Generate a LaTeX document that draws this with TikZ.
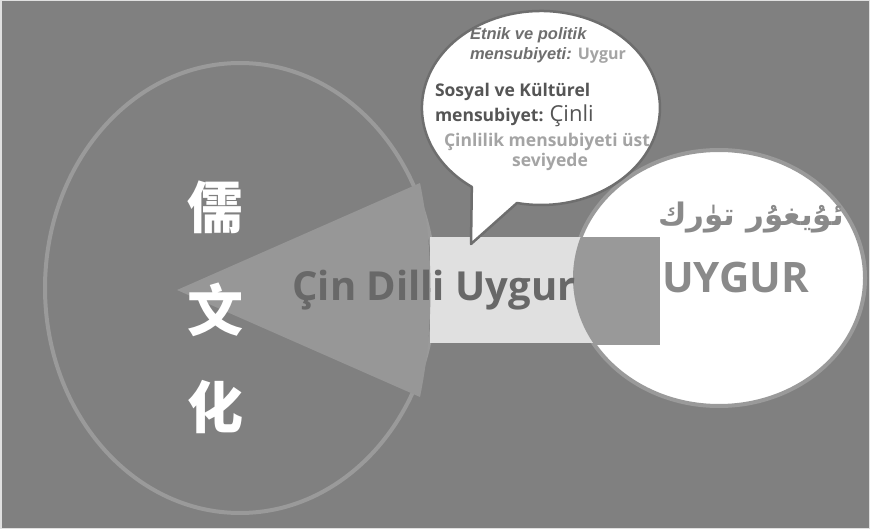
\documentclass[tikz,border=0pt]{standalone}
\usepackage{fontspec}
\setmainfont{Liberation Sans}
\newfontfamily\noto{Open Sans}
\newfontfamily\cjk{Noto Sans CJK SC}
\newfontfamily\arabicfont[Script=Arabic]{DejaVu Sans}
\TeXXeTstate=1
\definecolor{bg}{HTML}{808080}
\definecolor{ringgray}{HTML}{9A9A9A}
\definecolor{trifill}{HTML}{979797}
\definecolor{rectlight}{HTML}{E0E0E0}
\definecolor{rectmid}{HTML}{999999}
\definecolor{bubbleline}{HTML}{6E6E6E}
\definecolor{txtdark}{HTML}{555555}
\definecolor{txtital}{HTML}{6E6E6E}
\definecolor{txtlight}{HTML}{A4A4A4}
\definecolor{cintxt}{HTML}{686868}
\definecolor{uygtxt}{HTML}{8A8A8A}
\begin{document}
\begin{tikzpicture}[x=1pt,y=1pt,
  txt/.style={inner sep=0pt, outer sep=0pt},
  cjkchar/.style={txt, text=white, font=\cjk\bfseries\fontsize{56}{56}\selectfont},
  bubtxt/.style={txt, anchor=base west}]
\useasboundingbox (0,0) rectangle (870,-529);
% background
\fill[bg] (0,0) rectangle (870,-529);
\draw[rectlight, line width=1.5pt] (0.75,-0.75) rectangle (869.25,-528.25);
% big left ellipse
\draw[ringgray, line width=4pt] (240,-288) ellipse [x radius=195, y radius=225];
% right circle
\draw[ringgray, line width=4pt, fill=white] (719,-278) ellipse [x radius=146, y radius=128];
% rectangle
\fill[rectlight] (430,-237) rectangle (660,-343);
\begin{scope}
  \clip (719,-278) ellipse [x radius=146, y radius=128];
  \fill[rectmid] (430,-237) rectangle (660,-345);
\end{scope}
% triangle (arrow head)
\fill[trifill] (177,-290) -- (420,-183) .. controls (434,-250) and (434,-330) .. (420,-397) -- cycle;
% speech bubble
\filldraw[draw=bubbleline, fill=white, line width=2.5pt, line join=round]
  (517,-203) arc[start angle=258.4, end angle=594.5, x radius=119, y radius=97]
  -- (471,-244) -- cycle;
% CJK characters
\node[cjkchar] (ru) at (215,-207) {儒};
\node[cjkchar] (wen) at (215,-310) {文};
\node[cjkchar] (hua) at (215,-407) {化};
% central label
\node[txt, anchor=base, text=cintxt, font=\noto\bfseries\fontsize{40}{40}\selectfont] (cin) at (434,-301) {Çin Dilli Uygur};
% right circle texts
\node[txt, anchor=base, text=uygtxt, font=\arabicfont\bfseries\fontsize{31}{31}\selectfont] (ar) at (751,-226) {\beginR ئۇيغۇر تۈرك\endR};
\node[txt, anchor=base west, text=uygtxt, font=\noto\bfseries\fontsize{42}{42}\selectfont] (uyg) at (662,-293) {UYGUR};
% bubble texts
\node[bubtxt, text=txtital, font=\bfseries\itshape\fontsize{16.5}{16.5}\selectfont] (l1) at (470,-40) {Etnik ve politik};
\node[bubtxt, font=\fontsize{16.5}{16.5}\selectfont] (l2) at (470,-60) {\textcolor{txtital}{\bfseries\itshape mensubiyeti:} \textcolor{txtlight}{\noto\bfseries\fontsize{16}{16}\selectfont Uygur}};
\node[bubtxt, text=txtdark, font=\noto\bfseries\fontsize{17.5}{17.5}\selectfont] (l3) at (435,-97) {Sosyal ve Kültürel};
\node[bubtxt, text=txtdark, font=\noto\bfseries\fontsize{17.5}{17.5}\selectfont] (l4) at (435,-122) {mensubiyet: {\fontsize{22}{22}\selectfont\mdseries Çinli}};
\node[txt, anchor=base, text=txtlight, font=\noto\bfseries\fontsize{17.5}{17.5}\selectfont] (l5) at (547,-147) {Çinlilik mensubiyeti üst};
\node[txt, anchor=base, text=txtlight, font=\noto\bfseries\fontsize{17.5}{17.5}\selectfont] (l6) at (550,-167) {seviyede};
\end{tikzpicture}
\end{document}
